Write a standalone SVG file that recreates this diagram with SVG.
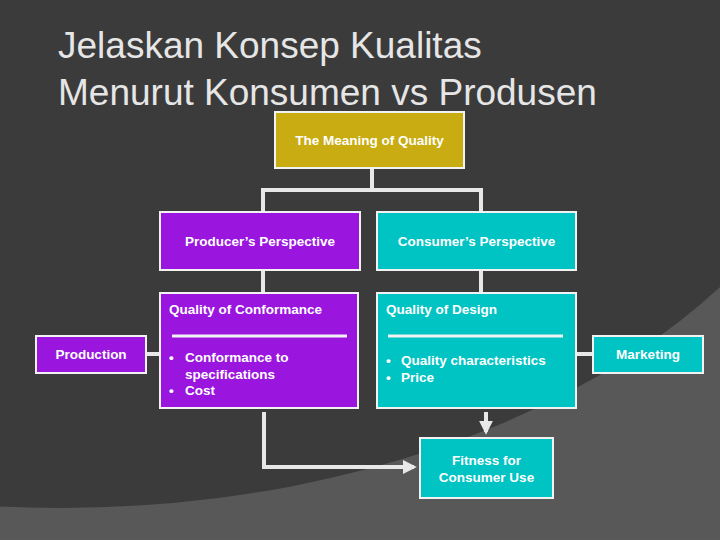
<svg xmlns="http://www.w3.org/2000/svg" width="720" height="540" viewBox="0 0 720 540">
<style>
.box{stroke:#f2f2f2;stroke-width:2}
.p{fill:#9a16de}.c{fill:#00c3c3}
.t{font-family:"Liberation Sans",Arial,sans-serif;font-size:13.5px;font-weight:bold;fill:#fff}
.ln{stroke:#e8e8e8;stroke-width:4;fill:none}
</style>
<defs>
<marker id="ah" viewBox="0 0 10 10" refX="8" refY="5" markerWidth="3.5" markerHeight="3.5" orient="auto"><path d="M0,0L10,5L0,10z" fill="#e8e8e8"/></marker>
</defs>
<rect width="720" height="540" fill="#585858"/>
<ellipse cx="60" cy="0" rx="800" ry="508" fill="#3b3b3b"/>
<g font-family="Liberation Sans,Arial,sans-serif" font-size="37" fill="#e6e6e6">
<text x="58" y="58">Jelaskan Konsep Kualitas</text>
<text x="58" y="105">Menurut Konsumen vs Produsen</text>
</g>
<g id="connectors">
<path class="ln" d="M372,168V190M263,190H481M263,188V212M481,188V212M263,270V293M481,270V293M146,354H160M576,354H593"/>
<path class="ln" d="M486,412V432" marker-end="url(#ah)"/>
<path class="ln" d="M264,412V467H414" marker-end="url(#ah)"/>
</g>
<g id="meaning"><rect class="box" x="275" y="112" width="189" height="56" fill="#c8ac12"/><text class="t" x="369.5" y="145" text-anchor="middle">The Meaning of Quality</text></g>
<g id="producer"><rect class="box p" x="160" y="212" width="200" height="58"/><text class="t" x="260" y="246" text-anchor="middle">Producer’s Perspective</text></g>
<g id="consumer"><rect class="box c" x="377" y="212" width="199" height="58"/><text class="t" x="476.5" y="246" text-anchor="middle">Consumer’s Perspective</text></g>
<g id="conformance"><rect class="box p" x="160" y="293" width="198" height="115"/>
<text class="t" x="169" y="314">Quality of  Conformance</text>
<line x1="172" y1="336" x2="347" y2="336" stroke="#f2f2f2" stroke-width="3"/>
<text class="t" x="169" y="362">•</text><text class="t" x="185" y="362">Conformance to</text><text class="t" x="185" y="379">specifications</text><text class="t" x="169" y="395">•</text><text class="t" x="185" y="395">Cost</text></g>
<g id="design"><rect class="box c" x="377" y="293" width="199" height="115"/>
<text class="t" x="386" y="314">Quality of Design</text>
<line x1="388" y1="336" x2="563" y2="336" stroke="#f2f2f2" stroke-width="3"/>
<text class="t" x="386" y="365">•</text><text class="t" x="401" y="365">Quality characteristics</text><text class="t" x="386" y="382">•</text><text class="t" x="401" y="382">Price</text></g>
<g id="production"><rect class="box p" x="36" y="336" width="110" height="37"/><text class="t" x="91" y="359" text-anchor="middle">Production</text></g>
<g id="marketing"><rect class="box c" x="593" y="336" width="110" height="37"/><text class="t" x="648" y="359" text-anchor="middle">Marketing</text></g>
<g id="fitness"><rect class="box c" x="420" y="438" width="133" height="60"/><text class="t" x="486.5" y="465" text-anchor="middle">Fitness for</text><text class="t" x="486.5" y="482" text-anchor="middle">Consumer Use</text></g>
</svg>
